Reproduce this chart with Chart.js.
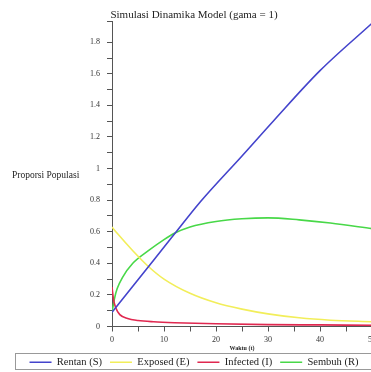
<!DOCTYPE html>
<html>
<head>
<meta charset="utf-8">
<script src="https://cdn.jsdelivr.net/npm/chart.js@4"></script>
<style>
  html, body { margin: 0; padding: 0; background: #fff; overflow: hidden; }
  #wrap { width: 395px; height: 372px; }
</style>
</head>
<body>
<div id="wrap"><canvas id="chart" width="395" height="372"></canvas></div>
<script>
// ==== DATA ====
const seriesNames = ["Rentan (S)", "Exposed (E)", "Infected (I)", "Sembuh (R)"];

const tS = [0, 4, 8, 12, 17, 25, 31, 40, 50];
const valS = [0.09, 0.255, 0.42, 0.585, 0.79, 1.08, 1.30, 1.62, 1.92];

const tE = [0, 1, 4, 7, 10, 15, 20, 25, 30, 36, 42, 50];
const valE = [0.63, 0.59, 0.48, 0.38, 0.30, 0.21, 0.15, 0.11, 0.08, 0.055, 0.04, 0.03];

const tI = [0, 0.3, 0.7, 1.5, 3, 5, 8, 12, 20, 30, 40, 50];
const valI = [0.25, 0.17, 0.12, 0.075, 0.05, 0.038, 0.03, 0.024, 0.017, 0.012, 0.01, 0.008];

const tR = [0, 0.5, 1, 2, 4, 7, 10, 12, 15, 20, 25, 30, 36, 42, 50];
const valR = [0.09, 0.18, 0.24, 0.31, 0.40, 0.48, 0.55, 0.59, 0.63, 0.665, 0.682, 0.688, 0.675, 0.655, 0.62];

const yLabelsEvery = 0.2;
const xLabelsEvery = 10;

const colors = ["#4444cc", "#f2ee5a", "#e02850", "#48d848"];

const toPoints = (ts, vs) => ts.map((t, i) => ({ x: t, y: vs[i] }));

const serif = "'Liberation Serif', 'DejaVu Serif', serif";

// horizontal y-axis label + legend frame
const extras = {
  id: "extras",
  afterDraw(chart) {
    const ctx = chart.ctx;
    ctx.save();
    ctx.fillStyle = "#222";
    ctx.font = "9.5px " + serif;
    ctx.textBaseline = "middle";
    ctx.textAlign = "left";
    ctx.fillText("Proporsi Populasi", 12, 175);
    ctx.strokeStyle = "#999";
    ctx.lineWidth = 1;
    ctx.strokeRect(15.5, 353.5, 380, 16);
    ctx.restore();
  }
};

new Chart(document.getElementById("chart"), {
  type: "scatter",
  data: {
    datasets: [
      { label: seriesNames[0], data: toPoints(tS, valS), borderColor: colors[0] },
      { label: seriesNames[1], data: toPoints(tE, valE), borderColor: colors[1] },
      { label: seriesNames[2], data: toPoints(tI, valI), borderColor: colors[2] },
      { label: seriesNames[3], data: toPoints(tR, valR), borderColor: colors[3] }
    ].map(d => ({
      ...d,
      backgroundColor: d.borderColor,
      showLine: true,
      borderWidth: 1.6,
      pointRadius: 0,
      cubicInterpolationMode: "monotone"
    }))
  },
  options: {
    responsive: false,
    animation: false,
    layout: { padding: { left: 16, right: 23, top: 0, bottom: -5.5 } },
    plugins: {
      title: {
        display: true,
        text: "Simulasi Dinamika Model (gama = 1)",
        color: "#222",
        font: { family: serif, size: 11, weight: "normal" },
        padding: { top: 8.5, bottom: 0 }
      },
      legend: {
        position: "bottom",
        labels: {
          color: "#222",
          font: { family: serif, size: 10.5 },
          usePointStyle: true,
          pointStyle: "line",
          pointStyleWidth: 22,
          boxHeight: 6,
          padding: 8
        }
      },
      tooltip: { enabled: false }
    },
    scales: {
      x: {
        type: "linear",
        min: 0,
        max: 50,
        afterFit: s => { s.height = 22.5; },
        border: { color: "#555", width: 1 },
        grid: { drawOnChartArea: false, tickLength: 5, color: "#555" },
        ticks: {
          stepSize: 5,
          padding: 4,
          color: "#333",
          font: { family: serif, size: 8 },
          maxRotation: 0,
          callback: v => (v % xLabelsEvery === 0 ? v : "")
        },
        title: {
          display: true,
          text: "Waktu (t)",
          color: "#222",
          font: { family: serif, size: 6, weight: "bold" },
          padding: { top: 0, bottom: -3 }
        }
      },
      y: {
        type: "linear",
        min: 0,
        max: 1.93,
        afterFit: s => { s.width = 96; },
        border: { color: "#555", width: 1 },
        grid: { drawOnChartArea: false, tickLength: 5, color: "#555" },
        ticks: {
          stepSize: 0.05,
          padding: 7,
          color: "#333",
          font: { family: serif, size: 8 },
          callback: v => {
            const r = Math.round(v * 100);
            if (r % Math.round(yLabelsEvery * 100) !== 0 || Math.abs(v * 100 - r) > 0.01) return "";
            return +(r / 100).toFixed(1);
          }
        }
      }
    }
  },
  plugins: [extras]
});
</script>
</body>
</html>
